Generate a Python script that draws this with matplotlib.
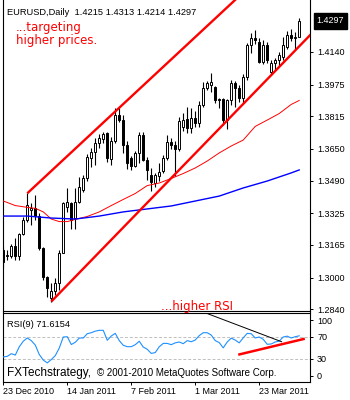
import matplotlib
matplotlib.use("Agg")
import matplotlib.pyplot as plt
import matplotlib.transforms as mtransforms

plt.rcParams['font.family'] = ['Liberation Sans', 'DejaVu Sans']

# EURUSD daily bars, 23 Dec 2010 .. 6 Apr 2011 (bar index = trading day)
opens = [1.3140, 1.3110, 1.3110, 1.3160, 1.3110, 1.3219, 1.3292, 1.3340, 1.3352, 1.3311,
         1.3148, 1.3002, 1.2896, 1.2930, 1.2975, 1.3126, 1.3355, 1.3376, 1.3300, 1.3384,
         1.3445, 1.3505, 1.3603, 1.3637, 1.3679, 1.3700, 1.3729, 1.3600, 1.3690, 1.3822,
         1.3797, 1.3670, 1.3605, 1.3565, 1.3628, 1.3721, 1.3595, 1.3519, 1.3480, 1.3515,
         1.3540, 1.3603, 1.3687, 1.3670, 1.3650, 1.3760, 1.3800, 1.3755, 1.3805, 1.3780,
         1.3870, 1.3958, 1.3975, 1.3963, 1.3895, 1.3903, 1.3795, 1.3895, 1.3985, 1.3960,
         1.3910, 1.4015, 1.4175, 1.4209, 1.4190, 1.4091, 1.4175, 1.4040, 1.4083, 1.4100,
         1.4116, 1.4167, 1.4226, 1.4209, 1.4215]
highs = [1.3160, 1.3140, 1.3170, 1.3199, 1.3225, 1.3308, 1.3426, 1.3375, 1.3418, 1.3325,
         1.3153, 1.3009, 1.2972, 1.2997, 1.3140, 1.3384, 1.3451, 1.3384, 1.3451, 1.3510,
         1.3520, 1.3625, 1.3654, 1.3704, 1.3724, 1.3738, 1.3738, 1.3710, 1.3856, 1.3862,
         1.3822, 1.3690, 1.3615, 1.3640, 1.3738, 1.3735, 1.3611, 1.3553, 1.3530, 1.3580,
         1.3620, 1.3720, 1.3705, 1.3690, 1.3810, 1.3830, 1.3860, 1.3855, 1.3840, 1.3890,
         1.3990, 1.3995, 1.4035, 1.3970, 1.3910, 1.3910, 1.3905, 1.4000, 1.3995, 1.3975,
         1.4030, 1.4185, 1.4234, 1.4250, 1.4209, 1.4200, 1.4190, 1.4100, 1.4110, 1.4140,
         1.4215, 1.4245, 1.4255, 1.4240, 1.4313]
lows = [1.3050, 1.3090, 1.3098, 1.3090, 1.3090, 1.3216, 1.3283, 1.3266, 1.3292, 1.3140,
        1.2989, 1.2904, 1.2879, 1.2913, 1.2938, 1.3123, 1.3333, 1.3245, 1.3245, 1.3376,
        1.3435, 1.3490, 1.3561, 1.3569, 1.3654, 1.3679, 1.3586, 1.3570, 1.3680, 1.3788,
        1.3628, 1.3550, 1.3545, 1.3560, 1.3578, 1.3590, 1.3493, 1.3440, 1.3460, 1.3490,
        1.3530, 1.3595, 1.3650, 1.3515, 1.3640, 1.3740, 1.3730, 1.3730, 1.3760, 1.3760,
        1.3860, 1.3950, 1.3940, 1.3880, 1.3857, 1.3770, 1.3750, 1.3870, 1.3860, 1.3885,
        1.3880, 1.4000, 1.4133, 1.4180, 1.4083, 1.4080, 1.4085, 1.4025, 1.4050, 1.4070,
        1.4100, 1.4155, 1.4195, 1.4150, 1.4214]
closes = [1.3080, 1.3115, 1.3160, 1.3110, 1.3219, 1.3292, 1.3367, 1.3352, 1.3311, 1.3148,
          1.3002, 1.2947, 1.2930, 1.2975, 1.3126, 1.3376, 1.3384, 1.3292, 1.3384, 1.3460,
          1.3505, 1.3611, 1.3637, 1.3679, 1.3704, 1.3724, 1.3603, 1.3690, 1.3822, 1.3797,
          1.3670, 1.3578, 1.3565, 1.3628, 1.3721, 1.3595, 1.3544, 1.3485, 1.3519, 1.3536,
          1.3603, 1.3687, 1.3670, 1.3650, 1.3790, 1.3797, 1.3755, 1.3805, 1.3780, 1.3870,
          1.3958, 1.3983, 1.3990, 1.3898, 1.3905, 1.3797, 1.3895, 1.3985, 1.3960, 1.3910,
          1.4015, 1.4175, 1.4209, 1.4200, 1.4091, 1.4175, 1.4100, 1.4083, 1.4100, 1.4125,
          1.4175, 1.4226, 1.4209, 1.4215, 1.4297]

# moving averages (bar index, price)
ma_red_idx = [0, 3, 6, 8, 10, 12, 14, 16, 18, 21, 24, 27, 30, 33, 36, 39, 42, 45, 48,
              51, 54, 57, 60, 63, 66, 69, 72, 74]
ma_red = [1.3387, 1.3364, 1.3355, 1.3350, 1.3332, 1.3296, 1.3283, 1.3283, 1.3294, 1.3309,
          1.3332, 1.3364, 1.3395, 1.3425, 1.3465, 1.3478, 1.3501, 1.3526, 1.3554,
          1.3589, 1.3630, 1.3665, 1.3695, 1.3764, 1.3796, 1.3829, 1.3875, 1.3895]
ma_blue_idx = [0, 6, 12, 18, 24, 30, 36, 42, 48, 54, 60, 66, 72, 74]
ma_blue = [1.3311, 1.3311, 1.3301, 1.3296, 1.3311, 1.3332, 1.3347, 1.3362, 1.3387,
           1.3412, 1.3453, 1.3488, 1.3529, 1.3544]

# channel trendlines (bar index, price)
upper_x = [6, 60]
upper_y = [1.3426, 1.4441]
lower_x = [12, 77]
lower_y = [1.2879, 1.4231]

rsi = [33.6, 34.8, 39.5, 37.0, 52.0, 62.0, 67.7, 63.0, 55.0, 38.0,
       28.0, 23.0, 29.0, 36.0, 49.7, 69.5, 70.0, 56.0, 60.0, 67.7,
       67.7, 75.4, 77.2, 80.0, 81.5, 81.5, 63.6, 71.3, 76.0, 63.0,
       54.6, 52.1, 52.1, 55.7, 61.8, 51.5, 47.4, 40.0, 41.5, 52.0,
       58.0, 58.0, 55.7, 59.0, 60.5, 57.5, 63.0, 61.0, 64.0, 72.0,
       77.2, 77.2, 73.0, 63.0, 59.5, 50.0, 60.5, 67.5, 64.0, 59.0,
       68.0, 76.0, 75.4, 67.7, 69.5, 65.3, 56.4, 57.0, 60.5, 62.0,
       69.5, 71.0, 67.7, 70.0, 71.6]
rsi_red_x = [58.75, 75.4]
rsi_red_y = [37.7, 66.4]
rsi_black_x = [49.4, 69.6]
rsi_black_y = [116.0, 61.0]

price_ticks = [1.4140, 1.3975, 1.3815, 1.3650, 1.3490, 1.3325, 1.3165, 1.3000, 1.2840]
rsi_ticks = [100, 70, 30, 0]
date_idx = [0, 16, 32, 48, 64]
date_labels = ["23 Dec 2010", "14 Jan 2011", "7 Feb 2011", "1 Mar 2011", "23 Mar 2011"]

W, H = 350, 400
fig = plt.figure(figsize=(W / 100, H / 100), dpi=100)


def fx(px):
    return px / W


def fy(py):
    return 1 - py / H


ax = fig.add_axes([fx(2.5), fy(311), fx(307.5), 311 / H])
rx = fig.add_axes([fx(2.5), fy(381.7), fx(307.5), (381.7 - 312.5) / H])

for a in (ax, rx):
    a.set_xlim(-0.2, 76.7)
    for s in a.spines.values():
        s.set_linewidth(0.8)
    a.yaxis.tick_right()
    a.tick_params(axis='y', direction='out', length=2.5, width=0.7, pad=2.6,
                  labelsize=6.5)
ax.spines['top'].set_visible(False)
ax.set_ylim(1.28313, 1.44027)
ax.set_xticks([])

# candles
idx = list(range(len(opens)))
ax.vlines(idx, lows, highs, color='black', lw=0.8, zorder=2)
bottoms = [min(o, c) for o, c in zip(opens, closes)]
heights = [abs(c - o) for o, c in zip(opens, closes)]
faces = ['white' if c >= o else 'black' for o, c in zip(opens, closes)]
ax.bar(idx, heights, bottom=bottoms, width=0.6, color=faces, edgecolor='black',
       linewidth=0.7, zorder=3)

ax.plot(ma_red_idx, ma_red, color='#FF0000', lw=0.7, zorder=4)
ax.plot(ma_blue_idx, ma_blue, color='#0000FF', lw=1.0, zorder=4)
ax.plot(upper_x, upper_y, color='#FF0000', lw=1.7, zorder=5, solid_capstyle='butt')
ax.plot(lower_x, lower_y, color='#FF0000', lw=1.7, zorder=5, solid_capstyle='butt')

ax.set_yticks(price_ticks)
ax.set_yticklabels([f"{v:.4f}" for v in price_ticks])

# last price box
tr = mtransforms.blended_transform_factory(ax.transAxes, ax.transData)
ax.text(1.022, closes[-1], f"{closes[-1]:.4f}", transform=tr, color='white',
        fontsize=6.5, va='center', ha='left', clip_on=False,
        bbox=dict(boxstyle='square,pad=0.35', fc='black', ec='black'))

# RSI panel
rx.set_ylim(-10.8, 113.5)
rx.plot(idx, rsi, color='#1E90FF', lw=0.8, zorder=3)
for lvl in (70, 30):
    rx.axhline(lvl, color='#C0C0C0', lw=0.7, ls=(0, (3, 2)), zorder=1)
rx.plot(rsi_red_x, rsi_red_y, color='#FF0000', lw=1.8, zorder=4, solid_capstyle='butt')
rx.plot(rsi_black_x, rsi_black_y, color='black', lw=0.7, zorder=4)
rx.set_yticks(rsi_ticks)
rx.set_yticklabels([str(v) for v in rsi_ticks])
rx.set_xticks(date_idx)
rx.set_xticklabels(date_labels, ha='left')
rx.tick_params(axis='x', direction='out', length=2.5, width=0.7, pad=1.5, labelsize=6.5)

# texts
fig.text(fx(7), fy(15), "EURUSD,Daily  1.4215 1.4313 1.4214 1.4297", fontsize=6.7,
         va='baseline', ha='left')
fig.text(fx(16), fy(30.7), "...targeting", fontsize=8.5, color='#FF0000',
         family='DejaVu Sans', va='baseline')
fig.text(fx(16), fy(44.3), "higher prices.", fontsize=8.5, color='#FF0000',
         family='DejaVu Sans', va='baseline')
fig.text(fx(160.7), fy(310), "...higher RSI", fontsize=8.5, color='#FF0000',
         family='DejaVu Sans', va='baseline')
fig.text(fx(7), fy(327), "RSI(9) 71.6154", fontsize=6.7, va='baseline')
fig.text(fx(6.7), fy(376.3), "FXTechstrategy,", fontsize=8.5, va='baseline')
fig.text(fx(96.7), fy(376.3), "\u00a9 2001-2010 MetaQuotes Software Corp.", fontsize=7,
         va='baseline')

fig.savefig("out.png", dpi=100)
